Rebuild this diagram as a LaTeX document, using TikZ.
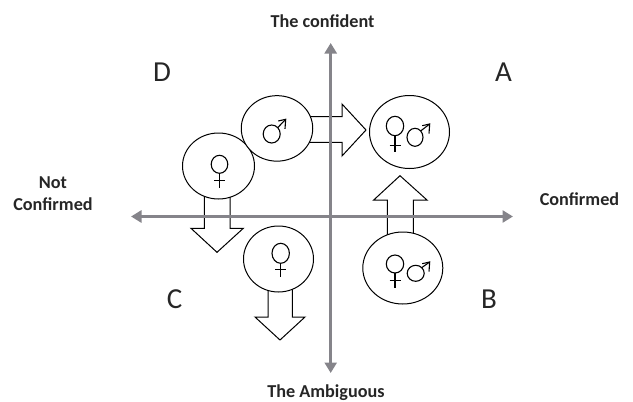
\documentclass[tikz,border=0pt]{standalone}
\usepackage{fontspec}
\setmainfont{Carlito}
\usetikzlibrary{shapes.geometric,arrows.meta}
\definecolor{axisgray}{HTML}{85848A}
\tikzset{
  x=1pt,y=-1pt,
  disc/.style={draw,ellipse,fill=white,inner sep=0pt,line width=1pt},
  blockarrow/.style={draw,fill=white,line width=1pt,line join=miter},
  axisline/.style={draw=axisgray,line width=3.3pt,{Triangle[length=10.5pt,width=12pt]}-{Triangle[length=10.5pt,width=12pt]}},
  axislabel/.style={font=\bfseries\fontsize{18.2}{22}\selectfont,align=center,text=black!85,inner sep=0pt,anchor=base},
  quadrant/.style={font=\fontsize{29}{32}\selectfont,text=black!85,inner sep=0pt,anchor=base},
  sym/.style={line width=1.1pt}
}
\newcommand{\femsym}[5]{% cx cy rx ry bottom
  \draw[sym] (#1,#2) ellipse [x radius=#3,y radius=#4];
  \draw[sym] (#1,#2+#4) -- (#1,#5);
  \draw[sym] (#1-5.5,#5-7) -- (#1+5.5,#5-7);
}
\newcommand{\malsym}[6]{% cx cy rx ry tipx tipy
  \draw[sym] (#1,#2) ellipse [x radius=#3,y radius=#4];
  \draw[sym] (#1+#3*.7,#2-#4*.7) -- (#5,#6);
  \draw[sym] (#5-7.5,#6+1.7) -- (#5,#6) -- (#5-.7,#6+9.5);
}
\begin{document}
\begin{tikzpicture}
\useasboundingbox (0,0) rectangle (633,402);
% block arrows
\draw[blockarrow] (305,116.7) -- (342,116.7) -- (342,104) -- (366,130) -- (342,156) -- (342,142.3) -- (305,142.3);
\draw[blockarrow] (387.3,240) -- (387.3,200) -- (373.7,200) -- (400,175.7) -- (427,200) -- (413.3,200) -- (413.3,240);
\draw[blockarrow] (204.3,190) -- (204.3,228.3) -- (191,228.3) -- (217,252.3) -- (243.3,228.3) -- (230,228.3) -- (230,190);
\draw[blockarrow] (268,285) -- (268,317) -- (255,317) -- (280,340) -- (305,317) -- (292.3,317) -- (292.3,285);
% discs
\node[disc,minimum width=72pt,minimum height=66pt] (fa) at (218.5,166) {};
\node[disc,minimum width=71.5pt,minimum height=65.5pt] (ma) at (277,128.4) {};
\node[disc,minimum width=80pt,minimum height=73pt] (ab) at (409.5,132) {};
\node[disc,minimum width=70pt,minimum height=66pt] (fc) at (278.5,259) {};
\node[disc,minimum width=80pt,minimum height=72pt] (bb) at (402.8,268) {};
% symbols
\femsym{219.5}{164.3}{8.3}{9}{187.7}
\malsym{271.7}{134}{8.5}{9}{285.7}{119.3}
\femsym{395}{126}{8.7}{9.7}{152.3}
\malsym{415}{137.3}{8}{9}{429.7}{124}
\femsym{280.7}{253.3}{8.7}{10}{276.7}
\femsym{395}{264}{8.7}{9}{287.7}
\malsym{415.7}{273.3}{8.5}{8}{429.7}{262}
% axes
\coordinate (xl) at (131,216.5);
\coordinate (xr) at (513,216.5);
\coordinate (yt) at (330.7,43);
\coordinate (yb) at (330.7,373);
\draw[axisline] (xl) -- (xr);
\draw[axisline] (yb) -- (yt);
% labels
\node[axislabel] (t) at (322.5,27) {The confident};
\node[axislabel] (b) at (326,397.5) {The Ambiguous};
\node[axislabel] (l1) at (53,188) {Not};
\node[axislabel] (l2) at (53,210) {Confirmed};
\node[axislabel] (r) at (579.5,205) {Confirmed};
\node[quadrant] (qd) at (162,81) {D};
\node[quadrant] (qa) at (503.5,81) {A};
\node[quadrant] (qc) at (174.5,308.5) {C};
\node[quadrant] (qb) at (489,308) {B};
\end{tikzpicture}
\end{document}
